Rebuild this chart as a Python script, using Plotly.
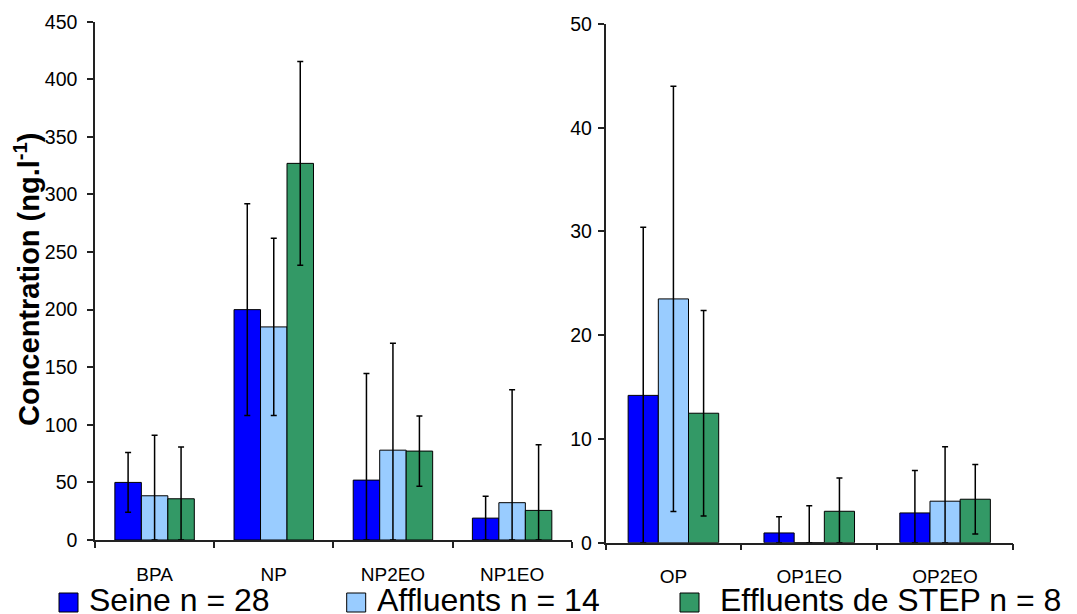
import numpy as np
import plotly.graph_objects as go

W, H = 1077, 614
OFF = 8  # the page body adds an 8px margin; positions below are screen pixels


def px(x):
    return (x - OFF) / W


def py(y):
    return (H - (y - OFF)) / H


# ---------------- data ----------------
series_names = ["Seine n = 28", "Affluents n = 14", "Effluents de STEP n = 8"]
series_colors = ["#0000FF", "#99CCFF", "#339966"]

cats_left = ["BPA", "NP", "NP2EO", "NP1EO"]
seine_left = [50, 200, 52, 19]
affl_left = [38.4, 185, 78, 32.4]
eff_left = [35.8, 327, 77.2, 25.7]
seine_left_err = [26, 92, 92.5, 19]
affl_left_err = [52.6, 77, 92.8, 98]
eff_left_err = [45, 88.5, 30.5, 57]

cats_right = ["OP", "OP1EO", "OP2EO"]
seine_right = [14.2, 0.94, 2.87]
affl_right = [23.5, 0, 4.0]
eff_right = [12.48, 3.03, 4.19]
seine_right_err = [16.2, 1.55, 4.1]
affl_right_err = [20.5, 3.55, 5.26]
eff_right_err = [9.9, 3.2, 3.35]

y_title = "Concentration (ng.l<sup>-1</sup>)"

FONT = "Liberation Sans, Arial, sans-serif"

fig = go.Figure()

left_vals = [seine_left, affl_left, eff_left]
left_errs = [seine_left_err, affl_left_err, eff_left_err]
right_vals = [seine_right, affl_right, eff_right]
right_errs = [seine_right_err, affl_right_err, eff_right_err]


def add_bars(cats, vals, errs, xa, ya):
    for name, color, v, e in zip(series_names, series_colors, vals, errs):
        v = np.array(v, dtype=float)
        e = np.array(e, dtype=float)
        fig.add_trace(go.Bar(
            x=cats, y=v, name=name, showlegend=False,
            marker=dict(color=color, line=dict(color="black", width=1)),
            error_y=dict(type="data", symmetric=False, array=e,
                         arrayminus=np.minimum(e, v),
                         color="black", thickness=1.5, width=3),
            xaxis=xa, yaxis=ya,
        ))


add_bars(cats_left, left_vals, left_errs, "x", "y")
add_bars(cats_right, right_vals, right_errs, "x2", "y2")

axis_common = dict(showgrid=False, zeroline=False, showline=True,
                   linecolor="#222", linewidth=1.5, ticks="outside",
                   tickcolor="#222", tickwidth=1.5, ticklen=6,
                   automargin=False)

fig.update_layout(
    width=W, height=H,
    margin=dict(l=0, r=0, t=0, b=0, autoexpand=False),
    paper_bgcolor="white", plot_bgcolor="white",
    barmode="group", bargap=1/3, bargroupgap=0,
    font=dict(family=FONT, color="black"),
    xaxis=dict(domain=[px(95), px(571.7)], anchor="y", type="category",
               range=[-0.5, 3.5], tickson="boundaries",
               tickfont=dict(size=19), ticklabelstandoff=16, **axis_common),
    yaxis=dict(domain=[py(540), py(21.7)], anchor="x", range=[0, 450],
               dtick=50, tickfont=dict(size=19.5), ticklabelstandoff=6,
               **axis_common),
    xaxis2=dict(domain=[px(605.5), px(1013)], anchor="y2", type="category",
                range=[-0.5, 2.5], tickson="boundaries",
                tickfont=dict(size=19), ticklabelstandoff=16, **axis_common),
    yaxis2=dict(domain=[py(542.7), py(24)], anchor="x2", range=[0, 50],
                dtick=10, tickfont=dict(size=19.5), ticklabelstandoff=2,
                **axis_common),
)

# y axis title
fig.add_annotation(text="<b>" + y_title + "</b>", textangle=-90,
                   xref="paper", yref="paper", x=px(27), y=py(279),
                   xanchor="center", yanchor="middle", showarrow=False,
                   font=dict(size=29, family=FONT, color="black"))

# legend (drawn manually to match the large swatches)
sq_x = [59, 346.7, 680]
txt_x = [87, 374.5, 718]
for name, color, sx, tx in zip(series_names, series_colors, sq_x, txt_x):
    fig.add_shape(type="rect", xref="paper", yref="paper",
                  x0=px(sx), x1=px(sx + 19), y0=py(612), y1=py(593),
                  fillcolor=color, line=dict(color="black", width=1))
    fig.add_annotation(text=name, xref="paper", yref="paper",
                       x=px(tx), y=py(600), xanchor="left", yanchor="middle",
                       height=24, valign="middle", showarrow=False,
                       font=dict(size=32, family=FONT, color="black"))

fig.write_html("out.html")
